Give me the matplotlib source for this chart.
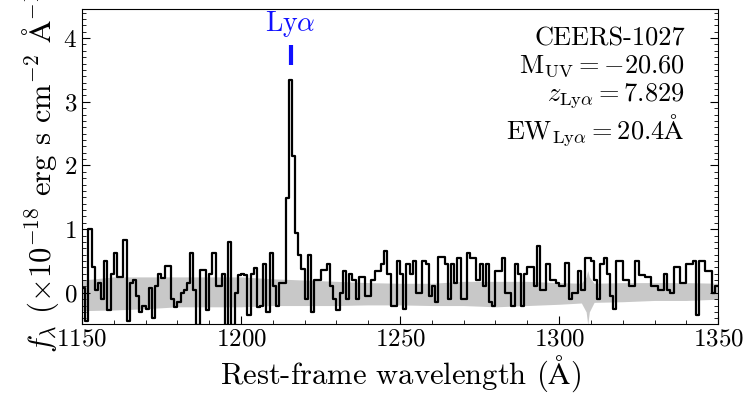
import numpy as np
import matplotlib
matplotlib.use("Agg")
import matplotlib.pyplot as plt
from matplotlib.ticker import MultipleLocator

plt.rcParams['font.family'] = ['cmr10', 'DejaVu Serif']
plt.rcParams['mathtext.fontset'] = 'cm'
plt.rcParams['axes.formatter.use_mathtext'] = True
plt.rcParams['axes.unicode_minus'] = False

# rest-frame wavelength bins (1 A wide, left edges 1150..1349)
wave_start = 1150
flux = [
    0.08, -0.45, 1.0, 0.4, 0.05, 0.15, -0.1, 0.5, -0.27, 0.3,
    0.63, 0.25, 0.25, 0.83, -0.45, 0.15, 0.2, -0.05, -0.3, -0.2,
    -0.25, 0.08, -0.4, 0.1, 0.3, 0.23, 0.42, 0.42, -0.1, -0.22,
    -0.15, 0.0, 0.05, 0.15, 0.63, 0.05, -0.5, 0.36, 0.36, -0.27,
    0.3, 0.62, 0.1, 0.1, 0.3, -0.5, 0.8, -0.5, 0.0, 0.28,
    0.3, 0.28, -0.35, 0.3, 0.39, -0.22, -0.2, 0.45, -0.3, 0.63,
    0.1, -0.2, 0.15, 0.15, 1.49, 3.35, 2.15, 0.94, 0.6, 0.37,
    -0.1, 0.6, -0.3, 0.2, 0.2, 0.36, 0.36, 0.45, 0.1, -0.1,
    -0.27, 0.0, 0.35, -0.1, 0.3, 0.2, -0.1, 0.25, 0.25, -0.05,
    -0.05, 0.2, 0.35, 0.35, 0.45, 0.65, 0.3, -0.2, -0.2, 0.5,
    0.3, -0.25, 0.45, 0.3, 0.5, 0.0, 0.0, 0.5, 0.45, -0.05,
    0.1, -0.15, 0.56, 0.56, 0.45, -0.1, 0.45, 0.15, 0.55, -0.1,
    -0.1, 0.63, 0.55, 0.55, 0.2, 0.45, 0.1, 0.45, -0.15, -0.2,
    0.35, 0.35, 0.55, 0.0, 0.0, -0.2, 0.45, 0.3, -0.2, 0.3,
    0.4, 0.4, 0.1, 0.74, 0.05, 0.05, 0.45, 0.2, 0.2, 0.15,
    0.1, 0.1, 0.47, -0.1, 0.0, 0.0, 0.35, 0.05, 0.55, 0.55,
    0.5, 0.2, -0.1, 0.45, 0.55, 0.3, -0.05, -0.25, 0.5, 0.5,
    0.2, 0.2, 0.1, 0.1, 0.5, 0.28, 0.28, 0.25, 0.25, 0.1,
    0.1, 0.05, 0.05, 0.3, 0.05, 0.0, 0.4, 0.4, 0.15, 0.15,
    0.45, 0.45, 0.5, -0.35, 0.5, 0.5, 0.35, 0.35, 0.0, 0.1,
]

# 1-sigma error band
err_wave = [1150, 1160, 1170, 1180, 1190, 1200, 1210, 1220, 1230, 1240,
            1250, 1260, 1270, 1280, 1290, 1300, 1307, 1308.5, 1309, 1309.5,
            1311, 1320, 1330, 1340, 1350]
err_lo = [-0.28, -0.27, -0.25, -0.22, -0.22, -0.22, -0.2, -0.2, -0.2, -0.19,
          -0.19, -0.2, -0.2, -0.22, -0.2, -0.18, -0.16, -0.3, -0.5, -0.3,
          -0.15, -0.14, -0.12, -0.12, -0.1]
err_hi = [0.2, 0.25, 0.25, 0.25, 0.25, 0.25, 0.22, 0.2, 0.18, 0.16,
          0.15, 0.15, 0.18, 0.18, 0.18, 0.16, 0.15, 0.25, 0.35, 0.25,
          0.15, 0.16, 0.16, 0.16, 0.15]

lya_wave = 1215.67
info_lines = [
    'CEERS-1027',
    r'$\mathrm{M_{UV}} = -20.60$',
    r'$z_{\mathrm{Ly}\alpha} = 7.829$',
    r'$\mathrm{EW_{Ly\alpha}} = 20.4\mathrm{\AA}$',
]

edges = wave_start + np.arange(len(flux) + 1)
vals = np.append(flux, flux[-1])

fig = plt.figure(figsize=(7.52, 4.01), dpi=100)
ax = fig.add_axes([0.109, 0.192, 0.846, 0.786])

ax.fill_between(err_wave, err_lo, err_hi, color='#c8c8c8', lw=0, zorder=1)
ax.step(edges, vals, where='post', color='black', lw=1.6, zorder=2)

# Lya marker
ax.plot([lya_wave, lya_wave], [3.58, 3.89], color='#1010ff', lw=3, solid_capstyle='butt')
ax.text(lya_wave, 4.22, r'Ly$\alpha$', color='#1010ff', fontsize=20,
        ha='center', va='center')

ax.text(1339.5, 4.18, '\n'.join(info_lines), fontsize=19, ha='right', va='top',
        linespacing=1.12)

ax.set_xlim(1150, 1350)
ax.set_ylim(-0.49, 4.46)
ax.xaxis.set_major_locator(MultipleLocator(50))
ax.xaxis.set_minor_locator(MultipleLocator(10))
ax.yaxis.set_major_locator(MultipleLocator(1))
ax.yaxis.set_minor_locator(MultipleLocator(0.1))
ax.tick_params(which='both', direction='in', top=False, right=True, labelsize=18)
ax.tick_params(which='major', length=6)
ax.tick_params(which='minor', length=3)

ax.set_xlabel(r'Rest-frame wavelength ($\mathrm{\AA}$)', fontsize=22, labelpad=2)
# long label runs past the top edge, as in the original figure
ax.set_ylabel(r'$f_\lambda$ ($\times10^{-18}$ erg s cm$^{-2}$ $\mathrm{\AA}^{-1}$)',
              fontsize=22, labelpad=2)

fig.savefig('out.png', dpi=100)
